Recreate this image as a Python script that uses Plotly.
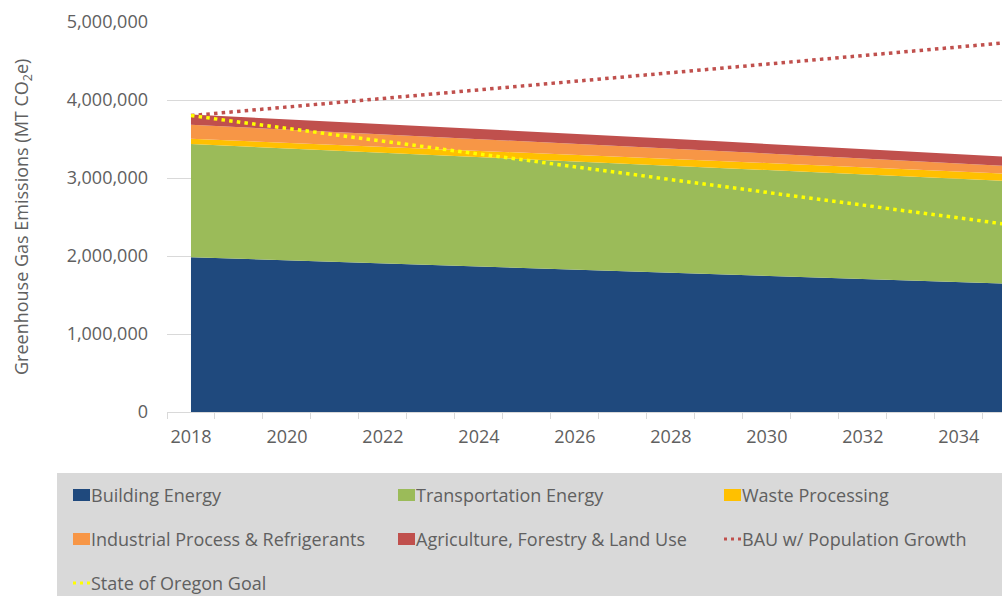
import plotly.graph_objects as go

# Annual emissions by sector (MT CO2e)
years = list(range(2018, 2036))

building_energy = [1985000, 1965000, 1945000, 1925000, 1905000, 1885000, 1865000, 1845000, 1825000,
                   1805000, 1785000, 1765000, 1745000, 1725000, 1705000, 1685000, 1665000, 1645000]
transportation_energy = [1450000, 1442000, 1435000, 1427000, 1420000, 1412000, 1405000, 1397000, 1390000,
                         1382000, 1374000, 1366000, 1358000, 1350000, 1342000, 1334000, 1326000, 1318000]
waste_processing = [68000, 71000, 73000, 76000, 78000, 80000, 82000, 84000, 86000,
                    87000, 88000, 88000, 89000, 89000, 90000, 90000, 90000, 91000]
industrial_refrigerants = [180000, 175000, 170000, 165000, 160000, 155000, 150000, 145000, 140000,
                           135000, 131000, 126000, 122000, 117000, 113000, 108000, 104000, 100000]
agriculture_land_use = [130000, 130000, 130000, 129000, 129000, 129000, 128000, 128000, 128000,
                        127000, 126000, 125000, 124000, 123000, 122000, 121000, 120000, 119000]

bau_population_growth = [3800000, 3855000, 3910000, 3965000, 4020000, 4075000, 4130000, 4185000, 4240000,
                         4295000, 4350000, 4405000, 4460000, 4515000, 4570000, 4625000, 4680000, 4735000]
oregon_goal = [3800000, 3718000, 3636000, 3554000, 3472000, 3390000, 3308000, 3226000, 3144000,
               3062000, 2980000, 2898000, 2816000, 2734000, 2652000, 2570000, 2488000, 2406000]

area_names = ["Building Energy", "Transportation Energy", "Waste Processing",
              "Industrial Process & Refrigerants", "Agriculture, Forestry & Land Use"]
area_values = [building_energy, transportation_energy, waste_processing,
               industrial_refrigerants, agriculture_land_use]
area_colors = ["#1F497D", "#9BBB59", "#FFC000", "#F79646", "#C0504D"]

line_names = ["BAU w/ Population Growth", "State of Oregon Goal"]
line_values = [bau_population_growth, oregon_goal]
line_colors = ["#C0504D", "#FFFF00"]

year_ticks = list(range(2018, 2035, 2))
y_ticks = [0, 1000000, 2000000, 3000000, 4000000, 5000000]

FONT = "'Open Sans', Lato, sans-serif"
TEXT = "#606060"
GRID = "#D9D9D9"

W, H = 1002, 596
ML, MR, MT, MB = 167, 0, 22, 184


def px_x(p):
    return (p - ML) / (W - ML - MR)


def px_y(p):
    return (H - MB - p) / (H - MT - MB)


fig = go.Figure()

for name, vals, col in zip(area_names, area_values, area_colors):
    fig.add_trace(go.Scatter(
        x=years, y=vals, name=name, stackgroup="sectors", mode="lines",
        line=dict(width=0, color=col), fillcolor=col, showlegend=False,
        hovertemplate="%{y:,.0f}<extra>" + name + "</extra>",
    ))

for name, vals, col in zip(line_names, line_values, line_colors):
    fig.add_trace(go.Scatter(
        x=years, y=vals, name=name, mode="lines",
        line=dict(width=3.5, color=col, dash="3.5px,4.2px"), showlegend=False,
    ))

# Legend panel
shapes = [dict(type="rect", xref="paper", yref="paper",
               x0=px_x(57), x1=px_x(1010), y0=px_y(605), y1=px_y(473),
               fillcolor="#D9D9D9", line=dict(width=0), layer="below")]
annotations = []

entries = [
    ("area", area_names[0], area_colors[0], 73, 495),
    ("area", area_names[1], area_colors[1], 398, 495),
    ("area", area_names[2], area_colors[2], 724, 495),
    ("area", area_names[3], area_colors[3], 73, 539),
    ("area", area_names[4], area_colors[4], 398, 539),
    ("line", line_names[0], line_colors[0], 724, 539),
    ("line", line_names[1], line_colors[1], 73, 583),
]
for kind, name, col, x0, yc in entries:
    if kind == "area":
        shapes.append(dict(type="rect", xref="paper", yref="paper",
                           x0=px_x(x0), x1=px_x(x0 + 17), y0=px_y(yc + 6), y1=px_y(yc - 6),
                           fillcolor=col, line=dict(width=0)))
    else:
        shapes.append(dict(type="line", xref="paper", yref="paper",
                           x0=px_x(x0), x1=px_x(x0 + 18), y0=px_y(yc), y1=px_y(yc),
                           line=dict(color=col, width=3, dash="3px,4px")))
    annotations.append(dict(xref="paper", yref="paper", x=px_x(x0 + 16), y=px_y(yc),
                            xanchor="left", yanchor="middle", showarrow=False, text=name,
                            font=dict(family=FONT, size=18, color=TEXT)))

annotations.append(dict(xref="paper", yref="paper", x=px_x(22), y=0.5,
                        xanchor="center", yanchor="middle", showarrow=False, textangle=-90,
                        text="Greenhouse Gas Emissions (MT CO<sub>2</sub>e)",
                        font=dict(family=FONT, size=18, color=TEXT)))

fig.update_layout(
    width=W, height=H,
    margin=dict(l=ML, r=MR, t=MT, b=MB, autoexpand=False),
    paper_bgcolor="white", plot_bgcolor="white",
    font=dict(family=FONT, size=18, color=TEXT),
    showlegend=False,
    shapes=shapes, annotations=annotations,
    xaxis=dict(
        range=[2017.5, 2034.9], tickmode="array", tickvals=year_ticks,
        ticktext=[str(y) for y in year_ticks], ticks="", showgrid=False,
        showline=True, linecolor=GRID, linewidth=1.3, zeroline=False,
        ticklabelstandoff=8,
        minor=dict(tick0=2017.5, dtick=1, ticks="outside", ticklen=6,
                   tickcolor=GRID, tickwidth=1.3, showgrid=False),
        tickfont=dict(family=FONT, size=18, color=TEXT),
    ),
    yaxis=dict(
        range=[0, 5000000], tickmode="array", tickvals=y_ticks,
        tickformat=",d", showgrid=True, gridcolor=GRID, gridwidth=1.3,
        zeroline=False, showline=False, ticks="", ticklabelstandoff=18,
        tickfont=dict(family=FONT, size=18, color=TEXT),
    ),
)

fig.write_html("out.html")
